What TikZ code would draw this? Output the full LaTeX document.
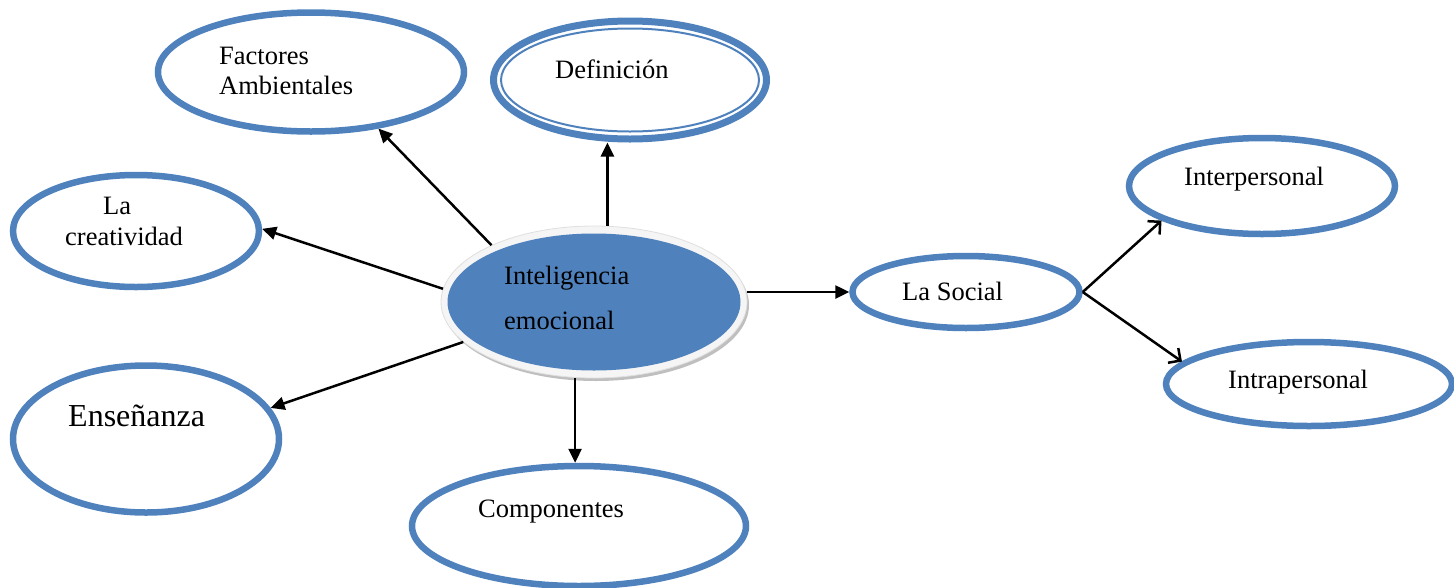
\documentclass[tikz,border=0pt]{standalone}
\usepackage{fontspec}
\setmainfont{Liberation Serif}
\usetikzlibrary{shapes.geometric,arrows.meta,calc}
\definecolor{ovblue}{HTML}{4F81BD}
\begin{document}
\begin{tikzpicture}[x=1pt,y=-1pt,
  oval/.style={ellipse,draw=ovblue,line width=6.5pt,inner sep=0pt},
  lbl/.style={anchor=base west,inner sep=0pt,font=\fontsize{26.5}{30}\selectfont},
  arr/.style={line width=2.5pt,-{Triangle[length=14pt,width=13pt]}},
  oarr/.style={line width=2.5pt,-{Straight Barb[length=9pt,width=18pt,line width=2.5pt]}}]
\useasboundingbox (0,0) rectangle (1454,587);
% outer ellipses
\node[oval,minimum width=306pt,minimum height=119pt] (fa) at (311,72) {};
\node[oval,line width=7pt,minimum width=273pt,minimum height=118pt] (de) at (630,80) {};
\draw[ovblue,line width=2pt] (de.center) ellipse [x radius=129pt,y radius=51.5pt];
\node[oval,minimum width=246pt,minimum height=112pt] (cr) at (136,231) {};
\node[oval,minimum width=266pt,minimum height=147pt] (en) at (146,439) {};
\node[oval,minimum width=334pt,minimum height=120pt] (co) at (579,526) {};
\node[oval,minimum width=227pt,minimum height=72pt] (so) at (966,292) {};
\node[oval,minimum width=266pt,minimum height=96pt] (ip) at (1262,186) {};
\node[oval,minimum width=286pt,minimum height=84pt] (it) at (1309,384) {};
% central ellipse
\fill[gray!50] (596,305) ellipse [x radius=153pt,y radius=76pt];
\node[ellipse,fill=gray!8,draw=gray!25,line width=0.8pt,minimum width=306pt,minimum height=152pt,inner sep=0pt] (ie) at (594,302) {};
\fill[ovblue] (ie.center) ellipse [x radius=146.5pt,y radius=68.5pt];
% arrows
\draw[arr] (ie.151.6) -- (fa.-40);
\draw[arr] (ie.80) -- (ie.80 |- de.south);
\draw[arr] (ie.175) -- (cr.1.4);
\draw[arr] (ie.197.4) -- (en.14.4);
\draw[arr] (ie.256) -- (ie.256 |- co.north);
\draw[arr] (so.west -| ie.east) -- (so.west);
\draw[oarr] (so.east) -- (ip.199);
\draw[oarr] (so.east) -- (it.170.5);
% labels
\node[lbl] (tfa1) at (219,64) {Factores};
\node[lbl] (tfa2) at (219,94) {Ambientales};
\node[lbl] (tde) at (555,78) {Definición};
\node[lbl] (tcr1) at (103,214) {La};
\node[lbl] (tcr2) at (65,245) {creatividad};
\node[lbl] (tie1) at (504,284) {Inteligencia};
\node[lbl] (tie2) at (504,329) {emocional};
\node[lbl] (tso) at (902,300) {La Social};
\node[lbl] (tip) at (1184,185) {Interpersonal};
\node[lbl] (tit) at (1228,388) {Intrapersonal};
\node[lbl,font=\fontsize{32}{36}\selectfont] (ten) at (68,426) {Enseñanza};
\node[lbl] (tco) at (478,517) {Componentes};
\end{tikzpicture}
\end{document}
